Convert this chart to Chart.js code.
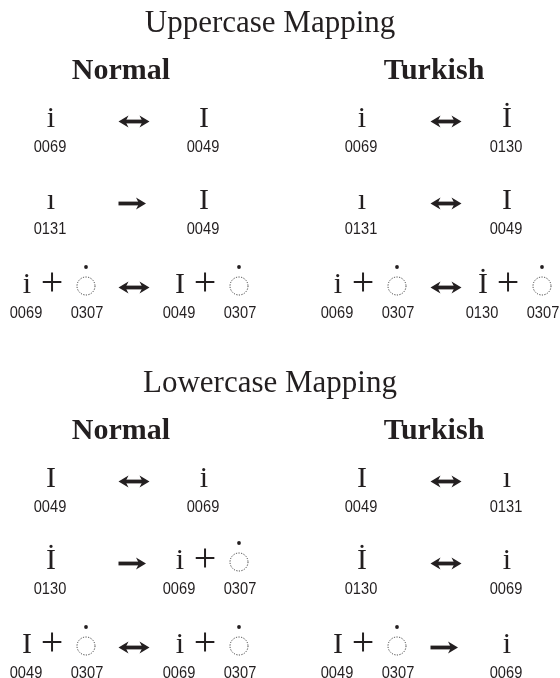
<!DOCTYPE html>
<html>
<head>
<meta charset="utf-8">
<script src="https://cdn.jsdelivr.net/npm/chart.js@4.4.1/dist/chart.umd.min.js"></script>
<style>
  body { margin: 0; background: #fff; }
  canvas { display: block; }
</style>
</head>
<body>
<canvas id="caseChart" width="560" height="678"></canvas>
<script>
const sections = ["Uppercase Mapping", "Lowercase Mapping"];
const groups = ["Normal", "Turkish"];

// each row: [left code points, arrow, right code points]
const upperNormal = [
  [["0069"], "↔", ["0049"]],
  [["0131"], "→", ["0049"]],
  [["0069", "0307"], "↔", ["0049", "0307"]],
];
const upperTurkish = [
  [["0069"], "↔", ["0130"]],
  [["0131"], "↔", ["0049"]],
  [["0069", "0307"], "↔", ["0130", "0307"]],
];
const lowerNormal = [
  [["0049"], "↔", ["0069"]],
  [["0130"], "→", ["0069", "0307"]],
  [["0049", "0307"], "↔", ["0069", "0307"]],
];
const lowerTurkish = [
  [["0049"], "↔", ["0131"]],
  [["0130"], "↔", ["0069"]],
  [["0049", "0307"], "→", ["0069"]],
];

const mappings = [
  [upperNormal, upperTurkish],
  [lowerNormal, lowerTurkish],
];

// layout in data units (scales run 0..560 and 0..678)
const sectionOffset = [0, 360];
const titleX = 270, titleY = 32, groupY = 79;
const groupX = [121, 434];
const rowY = [127, 209, 293];
const slotX = [
  [51, 134, 204],
  [362, 446, 507],
];

const ink = "#231f20";

let titles = [], headers = [], glyphs = [], codes = [], pluses = [], circles = [], arrows = [];

function addSide(cps, cx, by) {
  let ch = String.fromCharCode(parseInt(cps[0], 16));
  if (cps.length == 1) {
    glyphs.push({ x: cx, y: by, text: ch });
    codes.push({ x: cx - 1, y: by + 24.5, text: cps[0] });
  } else {
    glyphs.push({ x: cx - 24, y: by, text: ch });
    codes.push({ x: cx - 25, y: by + 24.5, text: cps[0] });
    pluses.push({ x: cx + 1, y: by });
    circles.push({ x: cx + 35, y: by });
    codes.push({ x: cx + 36, y: by + 24.5, text: cps[1] });
  }
}

for (let s = 0; s < sections.length; s++) {
  let off = sectionOffset[s];
  titles.push({ x: titleX, y: titleY + off, text: sections[s] });
  for (let g = 0; g < groups.length; g++) {
    headers.push({ x: groupX[g], y: groupY + off, text: groups[g] });
    let rows = mappings[s][g];
    for (let r = 0; r < rows.length; r++) {
      let by = rowY[r] + off;
      addSide(rows[r][0], slotX[g][0], by);
      arrows.push({ x: slotX[g][1], y: by, text: rows[r][1] });
      addSide(rows[r][2], slotX[g][2], by);
    }
  }
}

function arrowHead(ctx, tipX, y, dir) {
  ctx.beginPath();
  ctx.moveTo(tipX, y);
  ctx.lineTo(tipX - dir * 10, y - 6);
  ctx.lineTo(tipX - dir * 7, y);
  ctx.lineTo(tipX - dir * 10, y + 6);
  ctx.closePath();
  ctx.fill();
}

const textPlugin = {
  id: "caseText",
  afterDatasetsDraw(chart) {
    const ctx = chart.ctx;
    ctx.save();
    ctx.fillStyle = ink;
    ctx.strokeStyle = ink;
    ctx.textAlign = "center";
    ctx.textBaseline = "alphabetic";
    chart.data.datasets.forEach((ds, i) => {
      const meta = chart.getDatasetMeta(i);
      meta.data.forEach((pt, j) => {
        const raw = ds.data[j];
        const x = pt.x, y = pt.y;
        if (ds.kind == "title") {
          ctx.font = '31px "Liberation Serif", serif';
          ctx.fillText(raw.text, x, y);
        } else if (ds.kind == "header") {
          ctx.font = 'bold 30px "Liberation Serif", serif';
          ctx.fillText(raw.text, x, y);
        } else if (ds.kind == "glyph") {
          ctx.font = '30px "Liberation Serif", serif';
          ctx.fillText(raw.text, x, y);
        } else if (ds.kind == "plus") {
          ctx.font = '40px "Liberation Serif", serif';
          ctx.fillText("+", x, y + 2);
        } else if (ds.kind == "code") {
          ctx.save();
          ctx.translate(x, y);
          ctx.scale(0.86, 1);
          ctx.font = '17px "Liberation Sans", sans-serif';
          ctx.fillText(raw.text, 0, 0);
          ctx.restore();
        } else if (ds.kind == "circle") {
          ctx.save();
          ctx.strokeStyle = "#3a3a3a";
          ctx.lineWidth = 1;
          ctx.setLineDash([1.2, 1.4]);
          ctx.beginPath();
          ctx.arc(x, y - 7, 9, 0, Math.PI * 2);
          ctx.stroke();
          ctx.restore();
          ctx.beginPath();
          ctx.arc(x, y - 26, 1.9, 0, Math.PI * 2);
          ctx.fill();
        } else if (ds.kind == "arrow") {
          const ay = y - 5.5;
          const x1 = x - 15.5;
          const x2 = raw.text == "↔" ? x + 15.5 : x + 12;
          const start = raw.text == "↔" ? x1 + 6 : x1;
          ctx.fillRect(start, ay - 1.9, x2 - 6 - start, 3.8);
          arrowHead(ctx, x2, ay, 1);
          if (raw.text == "↔") arrowHead(ctx, x1, ay, -1);
        }
      });
    });
    ctx.restore();
  },
};

function pointSet(kind, data) {
  return { kind: kind, data: data, pointRadius: 0, pointHoverRadius: 0, showLine: false };
}

new Chart("caseChart", {
  type: "scatter",
  data: {
    datasets: [
      pointSet("title", titles),
      pointSet("header", headers),
      pointSet("glyph", glyphs),
      pointSet("code", codes),
      pointSet("plus", pluses),
      pointSet("circle", circles),
      pointSet("arrow", arrows),
    ],
  },
  options: {
    responsive: false,
    animation: false,
    events: [],
    layout: { padding: 0 },
    plugins: {
      legend: { display: false },
      tooltip: { enabled: false },
    },
    scales: {
      x: { type: "linear", min: 0, max: 560, display: false },
      y: { type: "linear", min: 0, max: 678, reverse: true, display: false },
    },
  },
  plugins: [textPlugin],
});
</script>
</body>
</html>
